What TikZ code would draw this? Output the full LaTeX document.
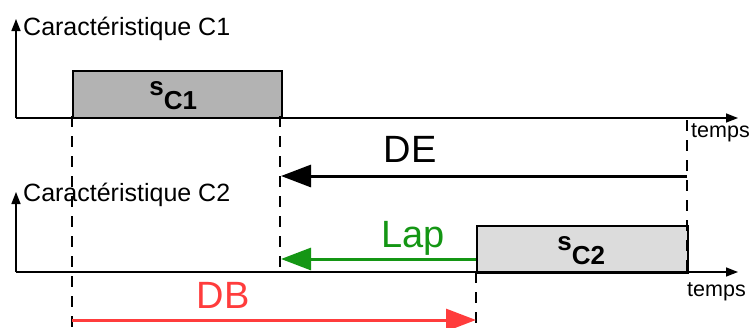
\documentclass[tikz,border=0pt]{standalone}
\usepackage{fontspec}
\setmainfont{Liberation Sans}
\usetikzlibrary{arrows.meta,calc}
\definecolor{boxdark}{RGB}{179,179,179}
\definecolor{boxlight}{RGB}{220,220,220}
\definecolor{lapgreen}{RGB}{20,150,20}
\definecolor{dbred}{RGB}{255,60,60}
\tikzset{
  axis/.style={line width=1.5pt,-{Triangle[length=12pt,width=9pt]}},
  guide/.style={line width=1.1pt,dash pattern=on 11pt off 9pt},
  slot/.style={draw=black,line width=1.5pt,inner sep=0pt,anchor=north west},
  bigarrow/.style={line width=3pt,-{Triangle[length=30pt,width=22pt]}},
  axlabel/.style={font=\fontsize{25}{27}\selectfont,anchor=base west,inner sep=0pt},
  tlabel/.style={font=\fontsize{21.5}{23}\selectfont,anchor=base west,inner sep=0pt},
  biglabel/.style={font=\fontsize{38}{40}\selectfont,anchor=base,inner sep=0pt},
  slabel/.style={font=\fontsize{26}{28}\selectfont\bfseries,inner sep=0pt}
}
\begin{document}
\begin{tikzpicture}[x=1pt,y=-1pt]
\useasboundingbox (0,0) rectangle (755,327);
% coordinates
\coordinate (o1) at (16,118);
\coordinate (y1) at (16,19);
\coordinate (x1) at (738,118);
\coordinate (o2) at (16,272);
\coordinate (y2) at (16,192);
\coordinate (x2) at (738,272);
% boxes
\node[slot,fill=boxdark,minimum width=209pt,minimum height=47pt] (sc1) at (72,70) {};
\node[slot,fill=boxlight,minimum width=211pt,minimum height=47pt] (sc2) at (476,225) {};
\node[slabel] (tsc1) at ($(sc1.center)+(-4,1)$) {s\raisebox{-14pt}{C1}};
\node[slabel] (tsc2) at ($(sc2.center)+(-1,1)$) {s\raisebox{-14pt}{C2}};
% guides
\coordinate (g1t) at (72,116);  \coordinate (g1b) at (72,327);
\coordinate (g2t) at (280,116); \coordinate (g2b) at (280,275);
\coordinate (g3t) at (687,120); \coordinate (g3b) at (687,272);
\coordinate (g4t) at (476,272); \coordinate (g4b) at (476,325);
\draw[guide] (g1t) -- (g1b);
\draw[guide] (g2t) -- (g2b);
\draw[guide] (g3t) -- (g3b);
\draw[guide] (g4t) -- (g4b);
% axes
\draw[axis] (o1) -- (y1);
\draw[axis] (o1) -- (x1);
\draw[axis] (o2) -- (y2);
\draw[axis] (o2) -- (x2);
\node[axlabel] (c1) at (23,35) {Caractéristique C1};
\node[axlabel] (c2) at (23,201) {Caractéristique C2};
\node[tlabel] (t1) at (691,137) {temps};
\node[tlabel] (t2) at (687,296) {temps};
% arrows
\coordinate (deS) at (687,176); \coordinate (deE) at (281,176);
\coordinate (lapS) at (476,259); \coordinate (lapE) at (281,259);
\coordinate (dbS) at (72,320); \coordinate (dbE) at (476,320);
\draw[bigarrow] (deS) -- (deE);
\draw[bigarrow,lapgreen] (lapS) -- (lapE);
\draw[bigarrow,dbred] (dbS) -- (dbE);
\node[biglabel] (de) at (410,162) {DE};
\node[biglabel,text=lapgreen] (lap) at (413,247) {Lap};
\node[biglabel,text=dbred] (db) at (223,308) {DB};
\end{tikzpicture}
\end{document}
